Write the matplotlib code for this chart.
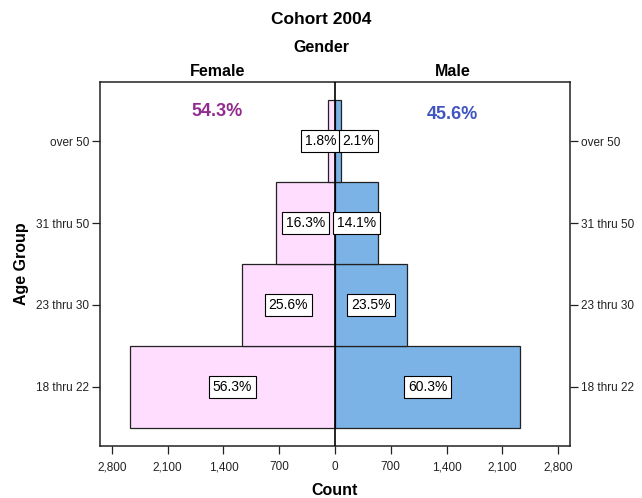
import matplotlib
matplotlib.use("Agg")
import matplotlib.pyplot as plt
from matplotlib.ticker import FuncFormatter

plt.rcParams['font.family'] = ['Liberation Sans', 'DejaVu Sans']

age_groups = ["18 thru 22", "23 thru 30", "31 thru 50", "over 50"]
female_counts = [2575, 1170, 745, 82]
male_counts = [2325, 905, 543, 81]
female_pct = ["56.3%", "25.6%", "16.3%", "1.8%"]
male_pct = ["60.3%", "23.5%", "14.1%", "2.1%"]
female_total = "54.3%"
male_total = "45.6%"
xticks = [-2800, -2100, -1400, -700, 0, 700, 1400, 2100, 2800]

fig = plt.figure(figsize=(6.42, 4.98), dpi=100)
ax = fig.add_axes([100/642, 1-446/498, 470/642, 364/498])

pink = "#FFDDFF"
blue = "#7BB3E6"
pos = list(range(len(age_groups)))

ax.barh(pos, [-v for v in female_counts], height=1.0, color=pink,
        edgecolor="#222222", linewidth=0.9, zorder=2)
ax.barh(pos, male_counts, height=1.0, color=blue,
        edgecolor="#222222", linewidth=0.9, zorder=2)

ax.set_xlim(-2950, 2950)
ax.set_ylim(-0.72, 3.72)
ax.axvline(0, color="black", linewidth=1.2, zorder=4)

box = dict(boxstyle="square,pad=0.28", facecolor="white", edgecolor="black", linewidth=0.8)
fs = 10
for i, (fc, mc) in enumerate(zip(female_counts, male_counts)):
    if fc > 400:
        ax.text(-fc/2, i, female_pct[i], ha="center", va="center", fontsize=fs, bbox=box, zorder=5)
    else:
        ax.text(20, i, female_pct[i], ha="right", va="center", fontsize=fs, bbox=box, zorder=5)
    if mc > 400:
        ax.text(mc/2, i, male_pct[i], ha="center", va="center", fontsize=fs, bbox=box, zorder=5)
    else:
        ax.text(95, i, male_pct[i], ha="left", va="center", fontsize=fs, bbox=box, zorder=5)

ax.text(0.25, 0.918, female_total, transform=ax.transAxes, ha="center", va="center",
        fontsize=13, fontweight="bold", color="#922B8F")
ax.text(0.75, 0.912, male_total, transform=ax.transAxes, ha="center", va="center",
        fontsize=13, fontweight="bold", color="#3F55C2")

ax.set_xticks(xticks)
ax.xaxis.set_major_formatter(FuncFormatter(lambda v, p: f"{abs(int(v)):,}"))
ax.set_yticks(pos)
ax.set_yticklabels(age_groups)
ax.tick_params(axis="both", direction="out", length=6, width=0.9, labelsize=8.5, colors="#222222")
ax.tick_params(axis="y", right=True, labelright=True, pad=2)
ax.tick_params(axis="x", pad=5)
for s in ax.spines.values():
    s.set_linewidth(1.1)
    s.set_color("#222222")

fig.text(0.5, 1-19/498, "Cohort 2004", ha="center", va="center", fontsize=12.5, fontweight="bold")
fig.text(0.5, 1-47/498, "Gender", ha="center", va="center", fontsize=11.5, fontweight="bold")
ax.text(0.25, 1.0 + 11/364, "Female", transform=ax.transAxes, ha="center", va="center",
        fontsize=11.5, fontweight="bold")
ax.text(0.75, 1.0 + 11/364, "Male", transform=ax.transAxes, ha="center", va="center",
        fontsize=11.5, fontweight="bold")
fig.text(22/642, 1-264/498, "Age Group", ha="center", va="center", rotation=90,
         fontsize=11.5, fontweight="bold")
fig.text(335/642, 1-490/498, "Count", ha="center", va="center", fontsize=11.5, fontweight="bold")

fig.savefig("out.png", dpi=100, facecolor="white")
